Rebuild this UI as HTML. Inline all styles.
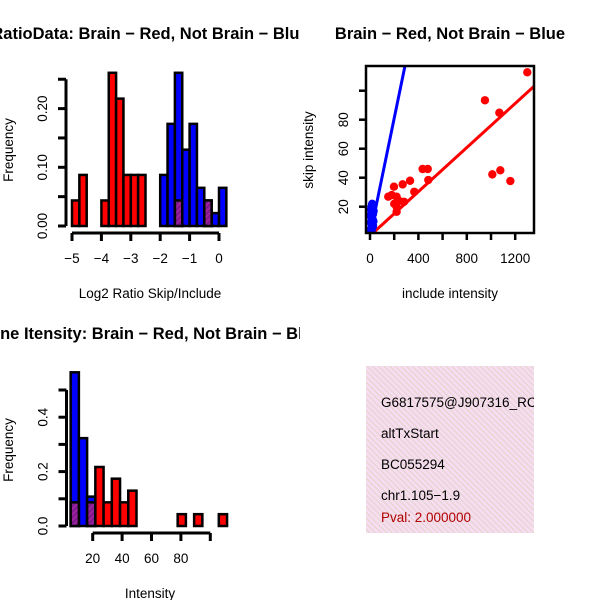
<!DOCTYPE html>
<html><head><meta charset="utf-8"><style>
html,body{margin:0;padding:0;background:#fff;}
svg{display:block;font-family:"Liberation Sans",sans-serif;}
</style></head><body>
<svg id="chart" width="600" height="600" viewBox="0 0 600 600" xmlns="http://www.w3.org/2000/svg">
<defs>
<pattern id="purp" width="4" height="4" patternUnits="userSpaceOnUse" patternTransform="rotate(45)">
<rect width="4" height="4" fill="#a020a0"/><rect width="2" height="4" fill="#7a1a8a"/></pattern>
<pattern id="pink" width="4" height="4" patternUnits="userSpaceOnUse" patternTransform="rotate(-45)">
<rect width="4" height="4" fill="#f8dcf2"/><rect width="1.2" height="4" fill="#e2d6cc"/></pattern>
<clipPath id="scClip"><rect x="366" y="66" width="168" height="167"/></clipPath>
<clipPath id="leftClip"><rect x="0" y="0" width="300" height="600"/></clipPath>
</defs>
<g id="p1" clip-path="url(#leftClip)"></g>
<g id="p2"></g>
<g id="p3" clip-path="url(#leftClip)"></g>
<g id="p4">
<rect x="366" y="366" width="168" height="167" fill="url(#pink)"/>
<svg x="366" y="366" width="168" height="167" overflow="hidden">
<g font-size="13.5" fill="#000">
<text x="15" y="41">G6817575@J907316_RC</text>
<text x="15" y="72">altTxStart</text>
<text x="15" y="103">BC055294</text>
<text x="15" y="134">chr1.105−1.9</text>
<text x="15" y="156" fill="#b00000">Pval: 2.000000</text>
</g></svg>
</g>
</svg>
<script>
// ---- Panel 1 data: log2 ratio histogram (bin width 0.25) ----
const ratioBinStart = -5, ratioBinWidth = 0.25;
const ratioRed = [0.0435,0.087,0,0,0.0435,0.261,0.217,0.087,0.087,0.087,0,0,0,0,0.0435,0,0,0,0.0435,0,0];
const ratioBlue = [0,0,0,0,0,0,0,0,0,0,0,0,0.087,0.174,0.261,0.13,0.174,0.065,0.0435,0.022,0.065];
const ratioXTicks = [-5,-4,-3,-2,-1,0];
const ratioYTicks = [0,0.05,0.10,0.15,0.20,0.25];
const ratioYLabels = ["0.00","","0.10","","0.20",""];
// ---- Panel 2 data: scatter ----
const redX = [1300,950,1069,1011,1077,1160,435,477,482,331,270,366,151,198,220,220,220,281,200,240,180];
const redY = [112.7,93.4,84.8,42.3,45.1,37.7,46,46,38.4,37.9,35.4,30.3,26.9,33.8,26.9,20,16.5,23.4,22,24,28];
const blueX = [5,10,15,20,25,8,12,18,22,28,3,14,30,6,20,10,25,16];
const blueY = [3,5,8,12,15,18,20,22,6,10,14,4,17,9,21,13,7,11];
const redSlope = 0.076, blueSlope = 0.405;
const scXTicks = [0,200,400,600,800,1000,1200];
const scXLabels = ["0","","400","","800","","1200"];
const scYTicks = [20,40,60,80,100];
const scYLabels = ["20","40","60","80",""];
// ---- Panel 3 data: intensity histogram ----
const intBinStart = 5, intBinWidth = 5.6;
const intRed = [0.087,0,0.087,0.217,0.087,0.174,0.087,0.13,0,0,0,0,0,0.0435,0,0.0435,0,0,0.0435];
const intBlue = [0.565,0.323,0.108,0,0,0,0,0,0,0,0,0,0,0,0,0,0,0,0];
const intXTicks = [20,40,60,80,100];
const intXLabels = ["20","40","60","80",""];
const intYTicks = [0,0.1,0.2,0.3,0.4,0.5];
const intYLabels = ["0.0","","0.2","","0.4",""];

const NS="http://www.w3.org/2000/svg";
const TICKFS=13.5, AXFS=13.5, TITLEFS=16.5;
function mk(parent,tag,attrs,txt){const e=document.createElementNS(NS,tag);for(const k in attrs)e.setAttribute(k,attrs[k]);if(txt!==undefined)e.textContent=txt;parent.appendChild(e);return e;}

function histogram(g, o){
  const sx=v=>o.x0+(v-o.xv0)*o.kx, sy=v=>o.y0-v*o.ky;
  o.blue.forEach((v,i)=>{ if(v<=0) return;
    const a=o.start+i*o.w;
    const r=mk(g,'rect',{x:sx(a),y:sy(v),width:o.w*o.kx,height:v*o.ky,fill:'#0000ff',stroke:'#000','stroke-width':2.5});
    
    
  });
  o.red.forEach((v,i)=>{ if(v<=0) return;
    const a=o.start+i*o.w;
    const ov=o.blue[i]>0;
    const r=mk(g,'rect',{x:sx(a),y:sy(v),width:o.w*o.kx,height:v*o.ky,fill:ov?'url(#purp)':'#ff0000',stroke:'#000','stroke-width':2.5});
    
    
  });
  const ya=mk(g,'line',{x1:o.yax,x2:o.yax,y1:sy(o.yt[0]),y2:sy(o.yt[o.yt.length-1]),stroke:'#000','stroke-width':3});
  
  
  o.yt.forEach((t,i)=>{
    mk(g,'line',{x1:o.yax-8,x2:o.yax,y1:sy(t),y2:sy(t),stroke:'#000','stroke-width':3});
    if(o.yl[i]){const tx=mk(g,'text',{x:o.yax-19,y:sy(t),transform:`rotate(-90 ${o.yax-19} ${sy(t)})`,'text-anchor':'middle','font-size':TICKFS},o.yl[i]);
      
      }
  });
  const xa=mk(g,'line',{x1:sx(o.xt[0]),x2:sx(o.xt[o.xt.length-1]),y1:o.xax,y2:o.xax,stroke:'#000','stroke-width':3});
  
  
  o.xt.forEach((t,i)=>{
    mk(g,'line',{x1:sx(t),x2:sx(t),y1:o.xax,y2:o.xax+8,stroke:'#000','stroke-width':3});
    if(o.xl[i]){const tx=mk(g,'text',{x:sx(t),y:o.xax+30,'text-anchor':'middle','font-size':TICKFS},o.xl[i]);
      
      }
  });
}

const p1=document.getElementById('p1');
histogram(p1,{x0:72,xv0:-5,kx:29.4,y0:226,ky:587,start:ratioBinStart,w:ratioBinWidth,red:ratioRed,blue:ratioBlue,
  yax:66,xax:233,xt:ratioXTicks,xl:ratioXTicks.map(String).map(s=>s.replace('-','−')),yt:ratioYTicks,yl:ratioYLabels});
let t=mk(p1,'text',{x:150,y:39,'text-anchor':'middle','font-size':TITLEFS,'font-weight':'bold'},'RatioData: Brain − Red, Not Brain − Blue');

t=mk(p1,'text',{x:150,y:298,'text-anchor':'middle','font-size':AXFS},'Log2 Ratio Skip/Include');

t=mk(p1,'text',{x:13,y:150,transform:'rotate(-90 13 150)','text-anchor':'middle','font-size':AXFS},'Frequency');


const p3=document.getElementById('p3');
histogram(p3,{x0:63.3,xv0:0,kx:1.47,y0:526,ky:272,start:intBinStart,w:intBinWidth,red:intRed,blue:intBlue,
  yax:66.5,xax:533,xt:intXTicks,xl:intXLabels,yt:intYTicks,yl:intYLabels});
t=mk(p3,'text',{x:150,y:339,'text-anchor':'middle','font-size':TITLEFS,'font-weight':'bold'},'Gene Itensity: Brain − Red, Not Brain − Blue');

t=mk(p3,'text',{x:150,y:598,'text-anchor':'middle','font-size':AXFS},'Intensity');

t=mk(p3,'text',{x:13,y:450,transform:'rotate(-90 13 450)','text-anchor':'middle','font-size':AXFS},'Frequency');


// scatter
const p2=document.getElementById('p2');
const sx=v=>370+v*0.121, sy=v=>235.7-v*1.45;
const cg=mk(p2,'g',{'clip-path':'url(#scClip)'});
const rl=mk(cg,'line',{x1:sx(0),y1:sy(0),x2:sx(1400),y2:sy(1400*redSlope),stroke:'#ff0000','stroke-width':3});

redX.forEach((x,i)=>{const c=mk(cg,'circle',{cx:sx(x),cy:sy(redY[i]),r:4.2,fill:'#ff0000'});
  
  });
blueX.forEach((x,i)=>{const c=mk(cg,'circle',{cx:sx(x),cy:sy(blueY[i]),r:4.2,fill:'#0000ff'});
  
  });
const bl=mk(cg,'line',{x1:sx(0),y1:sy(0),x2:sx(400),y2:sy(400*blueSlope),stroke:'#0000ff','stroke-width':3});

const box=mk(p2,'rect',{x:366,y:66,width:168,height:167,fill:'none',stroke:'#000','stroke-width':2.5});

scXTicks.forEach((v,i)=>{mk(p2,'line',{x1:sx(v),x2:sx(v),y1:233,y2:240,stroke:'#000','stroke-width':2.5});
  if(scXLabels[i]){const tx=mk(p2,'text',{x:sx(v),y:263,'text-anchor':'middle','font-size':TICKFS},scXLabels[i]);
  }});
scYTicks.forEach((v,i)=>{mk(p2,'line',{x1:359,x2:366,y1:sy(v),y2:sy(v),stroke:'#000','stroke-width':2.5});
  if(scYLabels[i]){const tx=mk(p2,'text',{x:348,y:sy(v),transform:`rotate(-90 348 ${sy(v)})`,'text-anchor':'middle','font-size':TICKFS},scYLabels[i]);
  }});
t=mk(p2,'text',{x:450,y:39,'text-anchor':'middle','font-size':TITLEFS,'font-weight':'bold'},'Brain − Red, Not Brain − Blue');

t=mk(p2,'text',{x:450,y:298,'text-anchor':'middle','font-size':AXFS},'include intensity');

t=mk(p2,'text',{x:313,y:150,transform:'rotate(-90 313 150)','text-anchor':'middle','font-size':AXFS},'skip intensity');

</script>
</body></html>
